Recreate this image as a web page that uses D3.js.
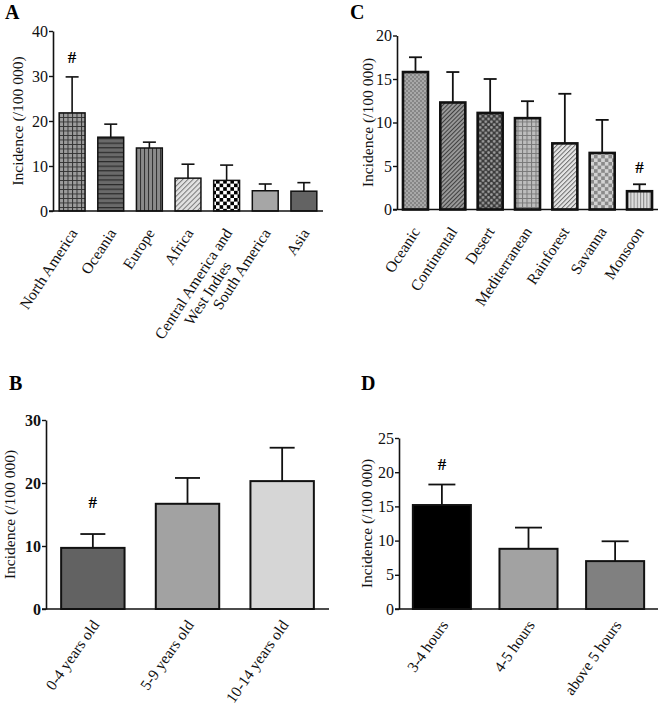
<!DOCTYPE html>
<html>
<head>
<meta charset="utf-8">
<script src="https://cdn.jsdelivr.net/npm/d3@7"></script>
<style>
  body { margin: 0; background: #fff; }
  text { font-family: "Liberation Serif", "Times New Roman", serif; }
</style>
</head>
<body>
<script>
// Panel A: incidence by region
const regions = ["North America", "Oceania", "Europe", "Africa", "Central America and\nWest Indies", "South America", "Asia"]
const regionMean = [21.8, 16.4, 14.0, 7.3, 6.8, 4.5, 4.4]
const regionSd = [8.0, 2.9, 1.3, 3.1, 3.4, 1.5, 1.9]
const regionTicks = [0, 10, 20, 30, 40]

// Panel C: incidence by climate
const climates = ["Oceanic", "Continental", "Desert", "Mediterranean", "Rainforest", "Savanna", "Monsoon"]
const climateMean = [15.8, 12.3, 11.1, 10.5, 7.6, 6.5, 2.1]
const climateSd = [1.7, 3.5, 3.9, 1.95, 5.7, 3.8, 0.8]
const climateTicks = [0, 5, 10, 15, 20]

// Panel B: incidence by age group
const ages = ["0-4 years old", "5-9 years old", "10-14 years old"]
const ageMean = [9.7, 16.7, 20.3]
const ageSd = [2.2, 4.1, 5.3]
const ageTicks = [0, 10, 20, 30]

// Panel D: incidence by daylight hours
const hours = ["3-4 hours", "4-5 hours", "above 5 hours"]
const hourMean = [15.2, 8.8, 7.0]
const hourSd = [3.0, 3.1, 2.9]
const hourTicks = [0, 5, 10, 15, 20, 25]

const svg = d3.select("body").append("svg")
  .attr("width", 660)
  .attr("height", 710)

const defs = svg.append("defs")

// small helper for fill patterns
function pattern(id, w, h, bg, draw, transform) {
  const p = defs.append("pattern")
    .attr("id", id)
    .attr("patternUnits", "userSpaceOnUse")
    .attr("width", w)
    .attr("height", h)
  if (transform) p.attr("patternTransform", transform)
  p.append("rect").attr("width", w).attr("height", h).attr("fill", bg)
  draw(p)
}
function grid(id, s, bg, fg) {
  pattern(id, s, s, bg, p => p.append("path")
    .attr("d", `M0,0.5H${s}M0.5,0V${s}`).attr("stroke", fg).attr("stroke-width", 1))
}
function stripes(id, s, bg, fg, sw, transform) {
  pattern(id, s, 10, bg, p => p.append("line")
    .attr("x1", 0.5).attr("x2", 0.5).attr("y1", 0).attr("y2", 10)
    .attr("stroke", fg).attr("stroke-width", sw), transform)
}
function checker(id, s, a, b) {
  pattern(id, s * 2, s * 2, a, p => {
    p.append("rect").attr("x", 0).attr("y", 0).attr("width", s).attr("height", s).attr("fill", b)
    p.append("rect").attr("x", s).attr("y", s).attr("width", s).attr("height", s).attr("fill", b)
  })
}
function dots(id, s, bg, fg, r) {
  pattern(id, s, s, bg, p => {
    p.append("circle").attr("cx", s / 4).attr("cy", s / 4).attr("r", r).attr("fill", fg)
    p.append("circle").attr("cx", s * 3 / 4).attr("cy", s * 3 / 4).attr("r", r).attr("fill", fg)
  })
}

grid("gridA", 4.5, "#9c9c9c", "#333")
pattern("hstripe", 10, 4.6, "#6a6a6a", p => p.append("line")
  .attr("x1", 0).attr("x2", 10).attr("y1", 0.6).attr("y2", 0.6)
  .attr("stroke", "#2a2a2a").attr("stroke-width", 1.2))
stripes("vstripe", 4, "#8a8a8a", "#333", 1.1)
stripes("diagA", 3.6, "#e2e2e2", "#777", 1, "rotate(45)")
checker("checkA", 3.6, "#fff", "#000")
dots("dotC", 4, "#a8a8a8", "#5a5a5a", 0.8)
stripes("diagC", 3, "#9a9a9a", "#404040", 1.1, "rotate(45)")
dots("diamondC", 5.6, "#3c3c3c", "#a0a0a0", 1.3)
grid("gridC", 4.5, "#bdbdbd", "#777")
stripes("diagC2", 3.2, "#e6e6e6", "#6a6a6a", 1, "rotate(45)")
checker("checkC", 3.6, "#d2d2d2", "#8a8a8a")
stripes("vstripeC", 3.2, "#dedede", "#888", 1)

function drawPanel(p) {
  const g = svg.append("g")

  const x = d3.scaleBand()
    .domain(p.cats.map((d, i) => i))
    .range([p.left, p.right])
    .paddingInner(0.33)
    .paddingOuter(0.16)

  const y = d3.scaleLinear()
    .domain([0, p.max])
    .range([p.bottom, p.top])

  // bars
  g.selectAll("rect.bar")
    .data(p.mean)
    .enter()
    .append("rect")
      .attr("class", "bar")
      .attr("x", (d, i) => x(i))
      .attr("y", d => y(d))
      .attr("width", x.bandwidth())
      .attr("height", d => p.bottom - y(d))
      .attr("fill", (d, i) => p.fills[i])
      .attr("stroke", "#111")
      .attr("stroke-width", p.barStroke)

  // error bars (upper only)
  p.mean.forEach((m, i) => {
    const cx = x(i) + x.bandwidth() / 2
    const top = y(m + p.sd[i])
    g.append("line")
      .attr("x1", cx).attr("x2", cx)
      .attr("y1", y(m)).attr("y2", top)
      .attr("stroke", "#111").attr("stroke-width", p.errStroke)
    g.append("line")
      .attr("x1", cx - p.cap / 2).attr("x2", cx + p.cap / 2)
      .attr("y1", top).attr("y2", top)
      .attr("stroke", "#111").attr("stroke-width", p.errStroke)
    if (p.hash.includes(i)) {
      g.append("text")
        .attr("x", cx)
        .attr("y", top - p.hashGap)
        .attr("text-anchor", "middle")
        .style("font-size", "17px")
        .style("font-weight", "bold")
        .text("#")
    }
  })

  // y axis
  const yAxis = g.append("g")
    .attr("transform", `translate(${p.left}, 0)`)
    .call(d3.axisLeft(y).tickValues(p.ticks).tickSize(4).tickSizeOuter(0).tickPadding(1))
  yAxis.select(".domain").attr("stroke", "#111").attr("stroke-width", 1.6)
  yAxis.selectAll(".tick line").attr("stroke", "#111").attr("stroke-width", 1.4)
  yAxis.selectAll(".tick text")
    .attr("fill", "#111")
    .style("font-family", '"Liberation Serif", serif')
    .style("font-size", "16px")
    .style("font-weight", p.boldTicks ? "bold" : "normal")

  // x axis line
  g.append("line")
    .attr("x1", p.left - 4).attr("x2", p.right)
    .attr("y1", p.bottom).attr("y2", p.bottom)
    .attr("stroke", "#111").attr("stroke-width", 1.6)

  // x labels, rotated
  p.cats.forEach((c, i) => {
    const cx = x(i) + x.bandwidth() / 2
    const lines = c.split("\n")
    const lg = g.append("g")
      .attr("transform", `translate(${cx + p.labelDx}, ${p.bottom + p.labelDy}) rotate(${p.angle})`)
    const t1 = lg.append("text")
      .attr("text-anchor", "end")
      .style("font-size", "15.5px")
      .attr("fill", "#111")
      .text(lines[0])
    if (lines.length > 1) {
      const t2 = lg.append("text")
        .attr("text-anchor", "end")
        .attr("y", 17)
        .style("font-size", "15.5px")
        .attr("fill", "#111")
        .text(lines[1])
      const w1 = t1.node().getComputedTextLength()
      const w2 = t2.node().getComputedTextLength()
      t2.attr("x", -(w1 - w2) / 2)
    }
  })

  // y title
  g.append("text")
    .attr("transform", `translate(${p.titleX}, ${(p.top + p.bottom) / 2 + p.titleDy}) rotate(-90)`)
    .attr("text-anchor", "middle")
    .style("font-size", "15.5px")
    .attr("fill", "#111")
    .text("Incidence (/100 000)")

  // panel letter
  g.append("text")
    .attr("x", p.letterX)
    .attr("y", p.letterY)
    .style("font-size", "20px")
    .style("font-weight", "bold")
    .text(p.letter)
}

drawPanel({
  letter: "A", letterX: 5, letterY: 19,
  cats: regions, mean: regionMean, sd: regionSd, ticks: regionTicks, max: 40,
  left: 53, right: 323, top: 31, bottom: 211,
  fills: ["url(#gridA)", "url(#hstripe)", "url(#vstripe)", "url(#diagA)", "url(#checkA)", "#a6a6a6", "#636363"],
  barStroke: 1.5, errStroke: 1.6, cap: 13, hash: [0], hashGap: 14,
  angle: -57, labelDx: 6, labelDy: 22,
  titleX: 23, titleDy: 0, boldTicks: false
})

drawPanel({
  letter: "C", letterX: 350, letterY: 19,
  cats: climates, mean: climateMean, sd: climateSd, ticks: climateTicks, max: 20,
  left: 397, right: 658, top: 35.5, bottom: 209.5,
  fills: ["url(#dotC)", "url(#diagC)", "url(#diamondC)", "url(#gridC)", "url(#diagC2)", "url(#checkC)", "url(#vstripeC)"],
  barStroke: 2.6, errStroke: 1.8, cap: 13, hash: [6], hashGap: 11,
  angle: -57, labelDx: 5, labelDy: 22,
  titleX: 373, titleDy: 0, boldTicks: false
})

drawPanel({
  letter: "B", letterX: 9, letterY: 390,
  cats: ages, mean: ageMean, sd: ageSd, ticks: ageTicks, max: 30,
  left: 46, right: 329, top: 420, bottom: 609,
  fills: ["#626262", "#a2a2a2", "#d6d6d6"],
  barStroke: 2, errStroke: 1.8, cap: 25, hash: [0], hashGap: 26,
  angle: -55, labelDx: 7, labelDy: 16,
  titleX: 15, titleDy: 0, boldTicks: true
})

drawPanel({
  letter: "D", letterX: 361, letterY: 390,
  cats: hours, mean: hourMean, sd: hourSd, ticks: hourTicks, max: 25,
  left: 399, right: 658, top: 438, bottom: 609,
  fills: ["#000", "#a2a2a2", "#808080"],
  barStroke: 2, errStroke: 1.8, cap: 27, hash: [0], hashGap: 15,
  angle: -55, labelDx: 7, labelDy: 16,
  titleX: 372, titleDy: 0, boldTicks: false
})
</script>
</body>
</html>
